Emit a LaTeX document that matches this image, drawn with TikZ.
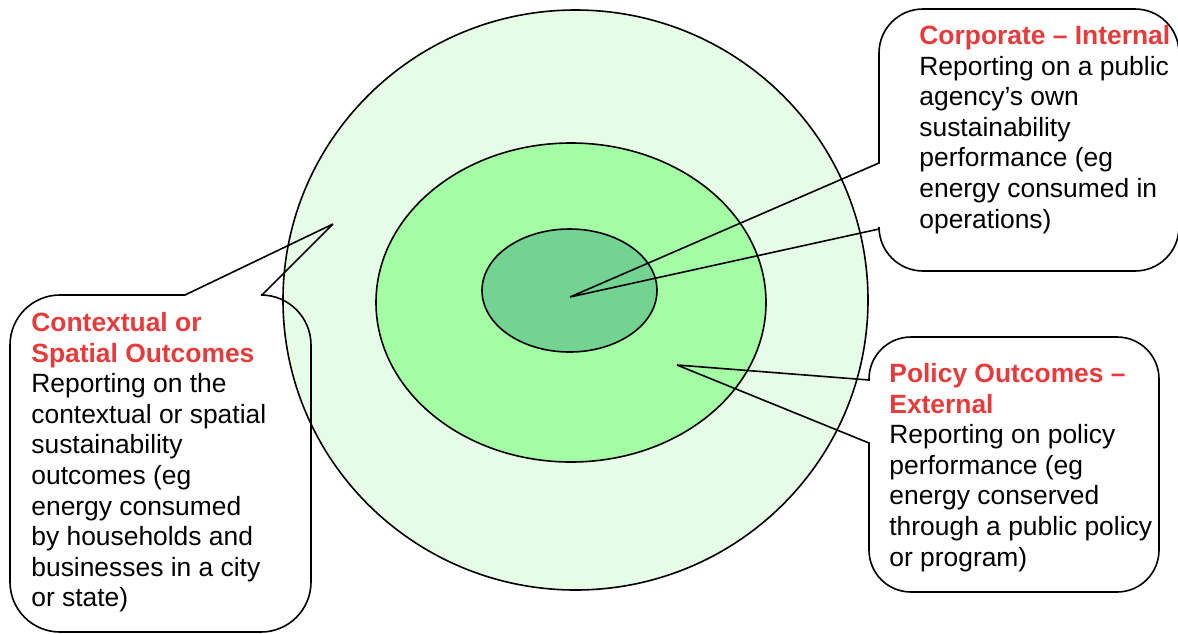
\documentclass[tikz,border=0pt]{standalone}
\usepackage{fontspec}
\setmainfont{Liberation Sans}
\usetikzlibrary{positioning,shapes.geometric}
\definecolor{outerFill}{HTML}{E6FCE6}
\definecolor{midFill}{HTML}{A4FCA4}
\definecolor{innerFill}{HTML}{72D490}
\definecolor{headRed}{HTML}{E53B3B}
\newcommand{\headtxt}[1]{{\color{headRed}\bfseries #1}}

\begin{document}
\begin{tikzpicture}[
  x=0.5pt, y=-0.5pt,
  font=\fontsize{13.2}{15.3}\selectfont,
  ring/.style  ={draw=black, line width=0.8pt, ellipse, inner sep=0pt},
  bubble/.style={draw=black, line width=0.8pt, line join=miter},
  txt/.style   ={anchor=north west, inner sep=0pt, align=left},
]
\useasboundingbox (0,0) rectangle (1178,633);

% ==================== rings ====================
\node[ring, fill=outerFill, minimum width=292.5pt, minimum height=290pt] (outer) at (575.5,300) {};
\node[ring, fill=midFill,   minimum width=195pt,   minimum height=159.5pt] (mid) at (571,302.5) {};
\node[ring, fill=innerFill, minimum width=87.5pt,  minimum height=61.5pt]  (inner) at (569.5,290.5) {};

% pointer tips
\coordinate (corpTip) at (570,297);
\coordinate (ctxTip)  at (333,224);
\coordinate (polTip)  at (677,365);

% ==================== callouts ====================
% Corporate - Internal
\draw[bubble] (corpTip) -- (879,163) [rounded corners=22pt] -- (879,9) -- (1179,9) -- (1179,271) -- (879,271) [sharp corners] -- (879,229) -- (corpTip);
\node[txt] (corp) at (919,25) {\headtxt{Corporate – Internal}\\Reporting on a public\\agency’s own\\sustainability\\performance (eg\\energy consumed in\\operations)};

% Contextual or Spatial
\draw[bubble] (ctxTip) -- (262,295) [rounded corners=25pt] -- (311,295) -- (311,632) -- (10,632) -- (10,295) [sharp corners] -- (185,295) -- (ctxTip);
\node[txt] (ctx) at (31,312) {\headtxt{Contextual or}\\\headtxt{Spatial Outcomes}\\Reporting on the\\contextual or spatial\\sustainability\\outcomes (eg\\energy consumed\\by households and\\businesses in a city\\or state)};

% Policy Outcomes - External
\draw[bubble] (polTip) -- (869,380) [rounded corners=21pt] -- (869,337) -- (1159,337) -- (1159,592) -- (869,592) [sharp corners] -- (869,443) -- (polTip);
\node[txt] (pol) at (889,363) {\headtxt{Policy Outcomes –}\\\headtxt{External}\\Reporting on policy\\performance (eg\\energy conserved\\through a public policy\\or program)};

\end{tikzpicture}
\end{document}
